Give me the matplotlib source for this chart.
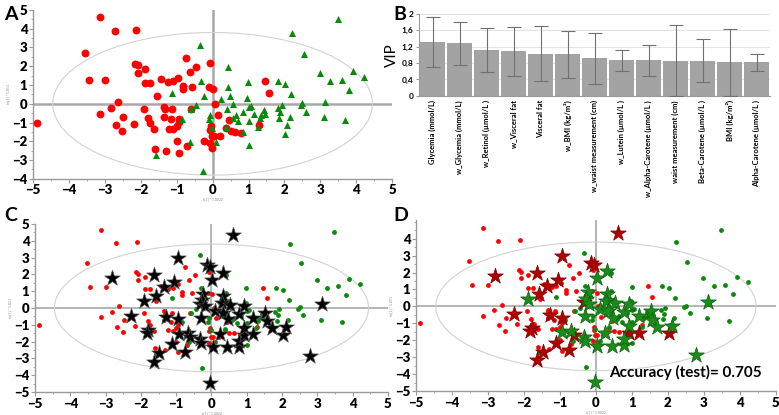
import numpy as np
import matplotlib
matplotlib.use("Agg")
import matplotlib.pyplot as plt
from matplotlib.patches import Ellipse
from matplotlib.ticker import MultipleLocator

plt.rcParams['font.family'] = ['Lato', 'DejaVu Sans']

# score plot: class 1 (red circles)
red_x = [-3.13, -2.71, -2.12, -3.54, -3.43, -3.0, -2.15, -2.08, -1.88, -2.08,
         -1.88, -1.75, -1.43, -1.23, -1.1, -0.96, -0.74, -0.83, -0.83, -0.56,
         -0.64, -0.47, -0.08, -0.11, 0.02, -1.56, -2.62, -2.83, -3.13, -2.49,
         -2.69, -2.52, -2.18, -1.91, -1.8, -1.73, -1.62, -1.34, -1.32, -1.13,
         -1.34, -1.16, -1.22, -1.1, -1.0, -0.94, -0.93, -1.0, -1.6, -1.31,
         -0.94, -0.7, -0.25, -0.6, -0.07, -0.02, -0.02, -0.04, -0.06, 0.06,
         0.14, 0.2, 0.03, 0.37, 0.45, 0.5, 0.63, 0.8, 1.29, 1.46,
         1.56, -4.9]
red_y = [4.65, 3.86, 3.93, 2.69, 1.26, 1.26, 2.12, 2.05, 1.86, 1.66,
         1.1, 1.1, 1.33, 1.15, 1.2, 1.4, 2.42, 0.96, 0.78, 0.92,
         1.68, 1.95, 2.16, 0.9, 0.81, 0.44, 0.09, -0.23, -0.55, -0.69,
         -1.11, -1.45, -1.06, -0.28, -0.76, -1.04, -1.36, -0.19, -0.3, -0.28,
         -0.71, -0.83, -1.33, -1.36, -1.19, -0.99, -0.83, -2.0, -2.39, -2.51,
         -2.62, -2.23, -2.0, -0.27, -2.07, -2.37, -1.72, -1.19, -1.38, 0.0,
         -0.62, -1.72, -1.72, -1.29, -0.85, -1.47, -1.5, -1.58, -1.12, 1.19,
         0.58, -1.0]

# class 2 (green triangles)
green_x = [3.48, 2.22, 2.54, 2.98, 3.28, 3.59, 3.91, 4.22, 3.8, 1.83,
           2.02, 2.19, 3.14, 2.46, 2.5, 2.6, 3.09, 3.7, 2.16, 2.07,
           2.01, 1.85, 1.88, 1.81, 1.92, 1.43, 1.46, 1.31, 1.27, 1.34,
           1.01, 1.0, 1.06, 0.99, 0.97, 1.15, 1.01, 0.86, 0.72, 0.85,
           0.56, 0.64, 0.58, 0.41, 0.48, 0.42, 0.42, 0.24, 0.37, -0.34,
           -0.31, -0.23, -0.45, -0.59, -1.12, -0.85, -0.63, 0.1, -0.27, -1.57,
           -0.11, -0.08, -0.02]
green_y = [4.51, 3.79, 2.65, 1.65, 1.2, 1.29, 1.75, 1.43, 0.76, 1.19,
           1.08, 0.5, 0.12, -0.05, 0.05, -0.42, -0.69, -0.85, -0.69, -1.11,
           -1.59, -0.76, -0.44, -0.23, -0.09, -0.34, -0.57, -0.76, -1.22, -0.62,
           -0.9, -0.19, -0.14, 1.17, 0.3, -0.55, -2.18, -1.49, -0.9, -0.42,
           0.0, -0.58, -0.74, -0.28, 0.39, 0.92, 1.95, 0.28, -1.24, 3.15,
           1.2, 0.41, -0.09, -0.27, 0.58, -0.83, -2.02, -2.02, -3.59, -2.71,
           -0.83, -0.58, -1.31]

# test set (stars) and predicted class (0 = red, 1 = green)
star_x = [0.6, -0.94, -2.81, -1.64, -1.06, -1.36, -1.58, -1.9, -0.14, -0.04,
          0.02, 0.32, -0.23, -0.27, -0.32, -0.18, 0.32, 0.29, 0.53, 0.1,
          0.33, 0.47, 0.79, 0.91, -0.29, -1.29, -0.95, -2.28, -1.79, -1.82,
          -0.93, -0.68, -0.62, -0.32, -0.29, 0.25, 0.03, -1.12, -1.48, -1.64,
          -0.76, 0.44, 0.77, 0.77, 0.91, 0.91, 1.19, 1.19, 1.52, 1.57,
          1.71, 2.04, 2.1, 3.12, 2.79, -0.03]
star_y = [4.32, 2.97, 1.79, 1.97, 1.53, 1.22, 0.72, 0.44, 2.55, 2.43,
          1.69, 2.11, 0.82, 0.46, 0.26, 0.12, 0.72, 0.32, 0.2, -0.18,
          -0.28, -0.68, -0.34, 0.12, -0.58, -0.52, -0.68, -0.48, -1.29, -1.47,
          -1.53, -1.47, -1.71, -1.83, -2.07, -1.55, -2.35, -2.15, -2.67, -3.19,
          -2.59, -2.35, -2.31, -1.95, -1.59, -1.18, -1.55, -0.58, -0.28, -0.78,
          -1.2, -1.59, -1.14, 0.24, -2.87, -4.46]
star_pred = [0, 0, 0, 0, 0, 0, 0, 1, 0, 0,
             1, 1, 1, 1, 0, 1, 1, 1, 1, 1,
             1, 1, 1, 1, 1, 0, 0, 0, 0, 0,
             1, 1, 0, 1, 1, 1, 1, 0, 0, 0,
             0, 1, 1, 1, 0, 1, 0, 1, 1, 1,
             1, 0, 1, 1, 1, 1]

# VIP plot
vip_labels = ["Glycemia (mmol/L)", "w_Glycemia (mmol/L)", "w_Retinol (µmol/L )",
              "w_Visceral fat", "Visceral fat", "w_BMI (kg/m²)",
              "w_waist measurement (cm)", "w_Lutein (µmol/L )",
              "w_Alpha-Carotene (µmol/L )", "waist measurement (cm)",
              "Beta-Carotene (µmol/L )", "BMI (kg/m²)", "Alpha-Carotene (µmol/L )"]
vip_values = [1.31, 1.28, 1.11, 1.08, 1.03, 1.01, 0.92, 0.88, 0.87, 0.86, 0.86, 0.82, 0.82]
vip_low = [0.70, 0.75, 0.58, 0.49, 0.35, 0.43, 0.30, 0.61, 0.49, 0.0, 0.33, 0.0, 0.61]
vip_high = [1.92, 1.81, 1.65, 1.67, 1.70, 1.58, 1.53, 1.12, 1.24, 1.72, 1.38, 1.63, 1.03]

RED = '#ff0000'
GREEN = '#0a8a0a'

fig = plt.figure(figsize=(7.79, 4.15), dpi=100)


def style_score(ax, xlim, ylim, yticks, lw0):
    ax.set_xlim(*xlim)
    ax.set_ylim(*ylim)
    ax.set_xticks(range(-5, 6))
    ax.set_yticks(yticks)
    ax.xaxis.set_minor_locator(MultipleLocator(0.5))
    ax.yaxis.set_minor_locator(MultipleLocator(0.5))
    for s in ['top', 'right']:
        ax.spines[s].set_visible(False)
    for s in ['left', 'bottom']:
        ax.spines[s].set_color('#9a9a9a')
        ax.spines[s].set_linewidth(1.0)
    ax.tick_params(which='both', color='#9a9a9a', labelsize=9.5, pad=1)
    ax.tick_params(which='major', length=3)
    ax.tick_params(which='minor', length=1.5)
    for lab in ax.get_xticklabels() + ax.get_yticklabels():
        lab.set_fontweight('heavy')
    ax.axhline(0, color='#a8a8a8', lw=lw0, zorder=1)
    ax.axvline(0, color='#a8a8a8', lw=lw0, zorder=1)
    ax.add_patch(Ellipse((0, 0), 8.9, 7.6, fill=False, ec='#d2d2d2', lw=0.8, zorder=1))
    ax.set_xlabel('t[1] * 1.0022', fontsize=2.5, color='#888888', labelpad=1)
    ax.set_ylabel('to[1] * 1.811', fontsize=2.5, color='#888888', labelpad=1)


# panel A
axA = fig.add_axes([0.0424, 0.569, 0.461, 0.407])
style_score(axA, (-5, 5), (-4, 5), range(-4, 6), 1.8)
axA.scatter(red_x, red_y, s=32, c=RED, marker='o', linewidths=0, zorder=3)
axA.scatter(green_x, green_y, s=26, c=GREEN, marker='^', linewidths=0, zorder=3)

# panel B
axB = fig.add_axes([0.538, 0.769, 0.4506, 0.198])
xpos = np.arange(len(vip_values))
err = [np.array(vip_values) - np.array(vip_low), np.array(vip_high) - np.array(vip_values)]
axB.bar(xpos, vip_values, width=0.94, color='#a3a3a3', zorder=2)
axB.errorbar(xpos, vip_values, yerr=err, fmt='none', ecolor='#707070', elinewidth=0.8,
             capsize=5, capthick=0.8, zorder=3)
axB.set_xlim(-0.5, 12.5)
axB.set_ylim(0, 2)
axB.set_yticks([0, 0.4, 0.8, 1.2, 1.6, 2])
axB.set_yticklabels(['0', '0,4', '0,8', '1,2', '1,6', '2'], fontsize=6, fontweight='bold')
axB.set_xticks(xpos)
axB.set_xticklabels(vip_labels, rotation=90, fontsize=5.5, fontweight='bold')
axB.tick_params(axis='x', length=0, pad=3)
axB.tick_params(axis='y', length=2, color='#9a9a9a', pad=2)
axB.grid(axis='y', color='#e4e4e4', lw=0.8, zorder=0)
for s in ['top', 'right']:
    axB.spines[s].set_visible(False)
axB.spines['left'].set_color('#9a9a9a')
axB.spines['bottom'].set_color('#9a9a9a')
axB.set_ylabel('VIP', fontsize=11, labelpad=2)

# panel C
axC = fig.add_axes([0.045, 0.0554, 0.453, 0.405])
style_score(axC, (-5, 5), (-5, 5), range(-5, 6), 1.2)
axC.scatter(red_x, red_y, s=12, c=RED, marker='o', linewidths=0, zorder=3)
axC.scatter(green_x, green_y, s=12, c=GREEN, marker='o', linewidths=0, zorder=3)
axC.scatter(star_x, star_y, s=140, c='black', marker='*', edgecolors='#555555',
            linewidths=0.5, zorder=4)

# panel D
axD = fig.add_axes([0.534, 0.0578, 0.462, 0.412])
style_score(axD, (-5, 5), (-5, 5.1), range(-5, 5), 1.2)
axD.scatter(red_x, red_y, s=12, c=RED, marker='o', linewidths=0, zorder=3)
axD.scatter(green_x, green_y, s=12, c=GREEN, marker='o', linewidths=0, zorder=3)
sx = np.array(star_x)
sy = np.array(star_y)
sp = np.array(star_pred)
axD.scatter(sx[sp == 0], sy[sp == 0], s=140, c='#b00000', marker='*', edgecolors='#7a0000',
            linewidths=0.5, zorder=4)
axD.scatter(sx[sp == 1], sy[sp == 1], s=140, c='#1a8c1a', marker='*', edgecolors='#0d5e0d',
            linewidths=0.5, zorder=4)
axD.text(4.6, -3.9, 'Accuracy (test)= 0.705', fontsize=11, fontweight='bold',
         ha='right', va='center', zorder=5)

# panel letters
for lab, x, y in [('A', 0.005, 0.965), ('B', 0.505, 0.965), ('C', 0.005, 0.48), ('D', 0.505, 0.48)]:
    fig.text(x, y, lab, fontsize=14, fontweight='bold', va='center')

fig.savefig('out.png', dpi=100)
